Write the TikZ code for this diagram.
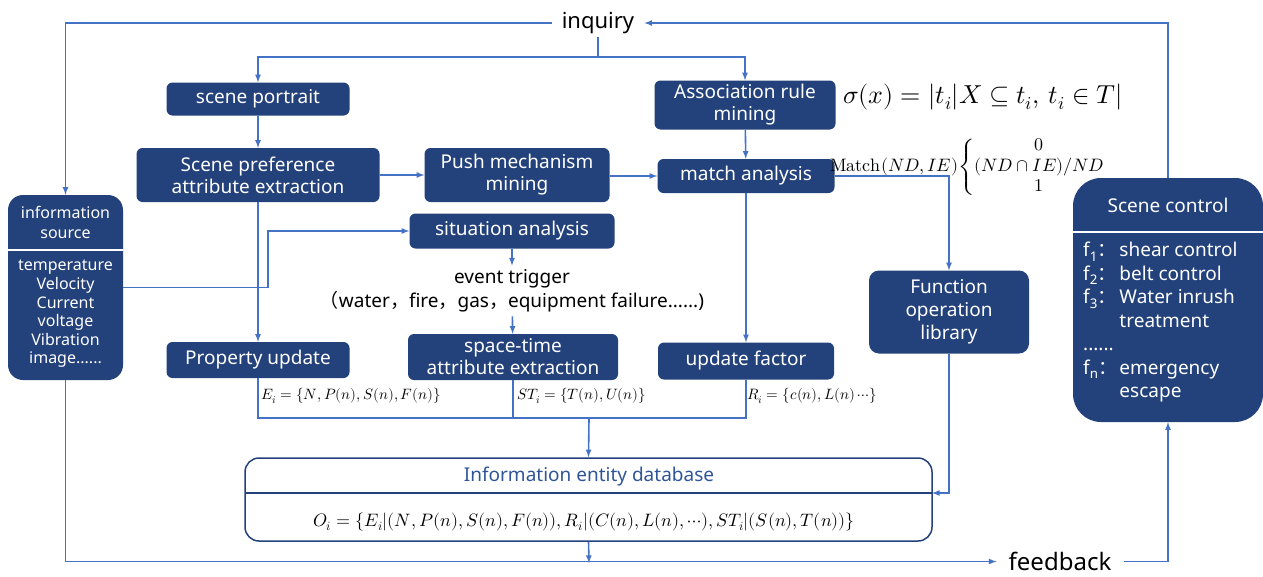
\documentclass[tikz,border=0pt]{standalone}
\usepackage{fontspec}
\usepackage{amsmath}
\usepackage{unicode-math}
\setmainfont{Noto Sans}
\newfontfamily\cjk{Noto Sans CJK SC}
\definecolor{boxnavy}{RGB}{35,65,122}
\definecolor{lineblue}{RGB}{68,114,196}
\definecolor{dbblue}{RGB}{47,85,151}

\begin{document}
\begin{tikzpicture}[x=1pt, y=-1pt]
          \tikzstyle{block}=[fill=boxnavy, text=white, rounded corners=6pt, align=center, inner sep=0pt, font=\fontsize{19}{22}\selectfont]
          \tikzstyle{plain}=[inner sep=0pt, align=center]
          \tikzstyle{flow}=[-latex, draw=lineblue, line width=1.6pt]
          \tikzstyle{link}=[draw=lineblue, line width=1.6pt]

          \useasboundingbox (0,0) rectangle (1263,576);

          \node (inquiry) at (598,23) [plain, inner xsep=10pt, inner ysep=3pt, font=\fontsize{22}{26}\selectfont] {inquiry};
          \node (feedback) at (1060,561.5) [plain, inner xsep=12pt, font=\fontsize{24}{28}\selectfont] {feedback};

          \node (portrait) at (258,99) [block, minimum width=183pt, minimum height=33pt] {scene portrait};
          \node (preference) at (258,175) [block, minimum width=243pt, minimum height=54pt] {Scene preference\\attribute extraction};
          \node (push) at (517,175) [block, minimum width=185pt, minimum height=54pt] {Push mechanism\\mining};
          \node (assoc) at (745,105) [block, minimum width=181pt, minimum height=49pt] {Association rule\\mining};
          \node (matchan) at (746,176) [block, minimum width=177pt, minimum height=34pt] {match analysis};
          \node (situation) at (512,231) [block, minimum width=205pt, minimum height=35pt] {situation analysis};
          \node (trigger) at (512,291) [plain, inner ysep=4pt, font=\fontsize{19}{24}\selectfont] {event trigger\\{\cjk （}water{\cjk ，}fire{\cjk ，}gas{\cjk ，}equipment failure......)};
          \node (propupd) at (258,360) [block, minimum width=183pt, minimum height=36pt] {Property update};
          \node (spacetime) at (513,357) [block, minimum width=210pt, minimum height=46pt] {space-time\\attribute extraction};
          \node (updfac) at (746,361) [block, minimum width=176pt, minimum height=37pt] {update factor};
          \node (funclib) at (949,312) [block, rounded corners=10pt, minimum width=160pt, minimum height=83pt, font=\fontsize{19}{23}\selectfont] {Function\\operation\\library};

          \node (infosrc) at (65.5,287.5) [block, rounded corners=15pt, minimum width=115pt, minimum height=185pt] {};
          \node (infohead) at (65.5,222) [plain, text=white, font=\fontsize{16}{20}\selectfont] {information\\source};
          \node (infobody) at (65.5,314) [plain, text=white, font=\fontsize{16}{18.6}\selectfont] {temperature\\Velocity\\Current\\voltage\\Vibration\\image......};
          \draw[white, line width=1.2pt] (infosrc.west |- 0,250) -- (infosrc.east |- 0,250);

          \node (scenectl) at (1168,300) [block, rounded corners=28pt, minimum width=190pt, minimum height=244pt] {};
          \node (scenehead) at (1168,205) [plain, text=white, font=\fontsize{19}{22}\selectfont] {Scene control};
          \draw[white, line width=1.2pt] (scenectl.west |- 0,232) -- (scenectl.east |- 0,232);
          \node (sceneitems) at (1083,240) [anchor=north west, inner sep=0pt, text=white, font=\fontsize{19}{23.5}\selectfont] {\begin{tabular}{@{}l@{\hspace{2pt}}l@{}}
            f\textsubscript{1}{\cjk ：} & shear control\\
            f\textsubscript{2}{\cjk ：} & belt control\\
            f\textsubscript{3}{\cjk ：} & Water inrush\\
                                       & treatment\\
            ...... & \\
            f\textsubscript{n}{\cjk ：} & emergency\\
                                       & escape
          \end{tabular}};

          \node (database) at (588.5,499.5) [draw=boxnavy, line width=1.5pt, fill=white, rounded corners=14pt, minimum width=687pt, minimum height=83pt] {};
          \coordinate (divL) at (245,493);
          \coordinate (divR) at (932,493);
          \draw[boxnavy, line width=1.5pt] (divL) -- (divR);
          \node (dbtitle) at (589,477) [plain, text=dbblue, font=\fontsize{19}{22}\selectfont] {Information entity database};
          \node (dbformula) at (584,522) [plain, font=\fontsize{18}{22}\selectfont] {$O_i=\{E_i|(N,P(n),S(n),F(n)),R_i|(C(n),L(n),\cdots),ST_i|(S(n),T(n))\}$};

          \node (support) at (843,97) [plain, anchor=west, font=\fontsize{26}{30}\selectfont] {$\sigma(x)=|t_i|X\subseteq t_i,\,t_i\in T|$};
          \node (matchfn) at (830,167) [plain, anchor=west, font=\fontsize{18}{20.5}\selectfont] {$\symup{Match}(ND,IE)\!\left\{\begin{array}{@{}c@{}}0\\(ND\cap IE)/ND\\1\end{array}\right.$};
          \node (elabel) at (261,396) [plain, anchor=west, font=\fontsize{15}{18}\selectfont] {$E_i=\{N,P(n),S(n),F(n)\}$};
          \node (stlabel) at (517,396) [plain, anchor=west, font=\fontsize{15}{18}\selectfont] {$ST_i=\{T(n),U(n)\}$};
          \node (rlabel) at (747,396) [plain, anchor=west, font=\fontsize{15}{18}\selectfont] {$R_i=\{c(n),L(n)\cdots\}$};

          \coordinate (split) at (598,57);
          \coordinate (bend) at (268,287.5);
          \coordinate (collect) at (589,418);
          \coordinate (feedjoin) at (589,563);

          \draw[flow] (inquiry.west) -| (infosrc.north);
          \draw[link] (inquiry.south) -- (split);
          \draw[flow] (split) -| (portrait.north);
          \draw[flow] (split) -| (assoc.north);

          \draw[flow] (portrait) to (preference);
          \draw[flow] (preference) to (push);
          \draw[flow] (push.east |- matchan) to (matchan);
          \draw[flow] (assoc) to (matchan);
          \draw[flow] (preference) to (propupd);
          \draw[flow] (matchan) to (updfac);
          \draw[flow] (matchan.east) -| (funclib.north);
          \draw[flow] (funclib.south) |- (divR);

          \draw[link] (infosrc.east) -- (bend);
          \draw[flow] (bend) |- (situation.west);
          \draw[flow] (situation) to (trigger);
          \draw[flow] (trigger) to (spacetime);

          \draw[link] (propupd.south) |- (collect);
          \draw[link] (spacetime.south) |- (collect);
          \draw[link] (updfac.south) |- (collect);
          \draw[flow] (collect) to (database.north);

          \draw[flow] (database.south) to (feedjoin);
          \draw[flow] (infosrc.south) |- (feedback.west);
          \draw[flow] (feedback.east) -| (scenectl.south);
          \draw[flow] (scenectl.north) |- (inquiry.east);
        \end{tikzpicture}
\end{document}
